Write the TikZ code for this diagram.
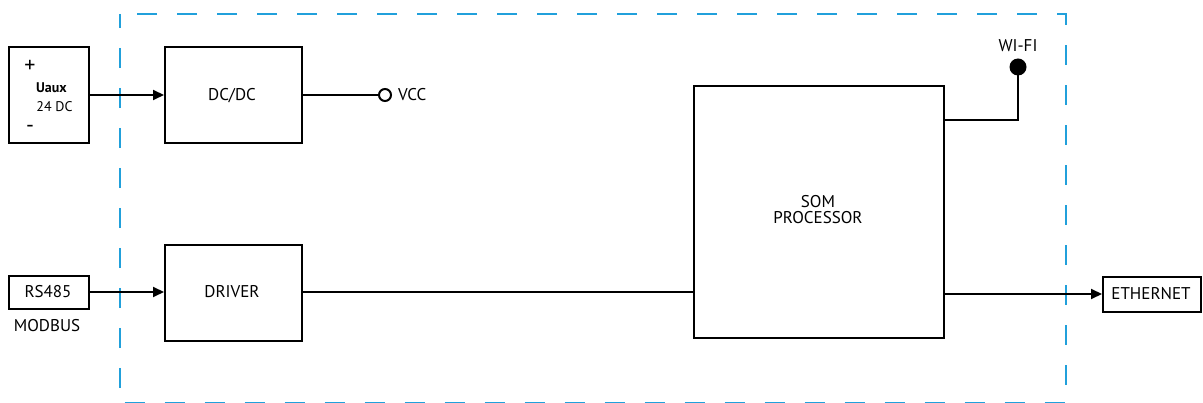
\documentclass[tikz,border=0pt]{standalone}
\usepackage{fontspec}
\setmainfont{PT Sans}
\usetikzlibrary{arrows.meta}
\definecolor{frameblue}{RGB}{33,160,219}
\begin{document}
\begin{tikzpicture}[x=1pt,y=-1pt,
  blk/.style={draw=black,line width=2pt,inner sep=0pt,anchor=north west},
  conn/.style={line width=2pt,draw=black},
  arr/.style={conn,-{Triangle[length=11pt,width=10pt]}},
  lbl/.style={font=\fontsize{17}{17}\selectfont,inner sep=0pt,align=center},
  small/.style={font=\fontsize{14}{14}\selectfont,inner sep=0pt}]
\useasboundingbox (0,0) rectangle (1203,403);
% dashed frame
\draw[frameblue,line width=2.5pt,dash pattern=on 20pt off 20pt,dash phase=6pt] (120,14) rectangle (1066,403.5);
% boxes
\node[blk,minimum width=80pt,minimum height=96pt] (uaux) at (8,46) {};
\node[blk,minimum width=137pt,minimum height=96pt,lbl] (dcdc) at (164,46) {};
\node[lbl] (dcdct) at (232,96) {DC/DC};
\node[blk,minimum width=250pt,minimum height=252pt] (som) at (693,85) {};
\node[lbl,font=\fontsize{17}{16}\selectfont] (somt) at (818,210) {SOM\\PROCESSOR};
\node[blk,minimum width=80pt,minimum height=33pt] (rs) at (8,275) {};
\node[lbl] (rst) at (48,292) {RS485};
\node[lbl] (modbus) at (47,326) {MODBUS};
\node[blk,minimum width=137pt,minimum height=96pt] (drv) at (164,244) {};
\node[lbl] (drvt) at (232,292) {DRIVER};
\node[blk,minimum width=98pt,minimum height=35pt] (eth) at (1102,276) {};
\node[lbl] (etht) at (1151,293.5) {ETHERNET};
% Uaux texts
\node[lbl,font=\fontsize{22}{22}\selectfont] (plus) at (30,66) {+};
\node[small,font=\fontsize{14}{14}\bfseries\selectfont] (uauxt) at (51.5,88) {Uaux};
\node[small] (dc24) at (54.5,107) {24 DC};
\node[lbl,font=\fontsize{22}{22}\selectfont] (minus) at (30,129) {-};
% VCC
\node[circle,draw=black,line width=2pt,minimum size=12pt,inner sep=0pt] (vcc) at (385,95) {};
\node[lbl,anchor=west] (vcct) at (398,95) {VCC};
% WI-FI
\node[circle,fill=black,minimum size=17pt,inner sep=0pt] (wifi) at (1018,67) {};
\node[lbl] (wifit) at (1018,46) {WI-FI};
\coordinate (wcorner) at (1018,120);
% connectors
\draw[arr] (uaux.east |- 0,95) -- (dcdc.west |- 0,95);
\draw[conn] (dcdc.east |- 0,95) -- (vcc.west);
\draw[arr] (rs.east |- 0,292) -- (drv.west |- 0,292);
\draw[conn] (drv.east |- 0,292) -- (som.west |- 0,292);
\draw[arr] (som.east |- 0,294) -- (eth.west |- 0,294);
\draw[conn] (som.east |- wcorner) -- (wcorner) -- (wifi.center);
\end{tikzpicture}
\end{document}
